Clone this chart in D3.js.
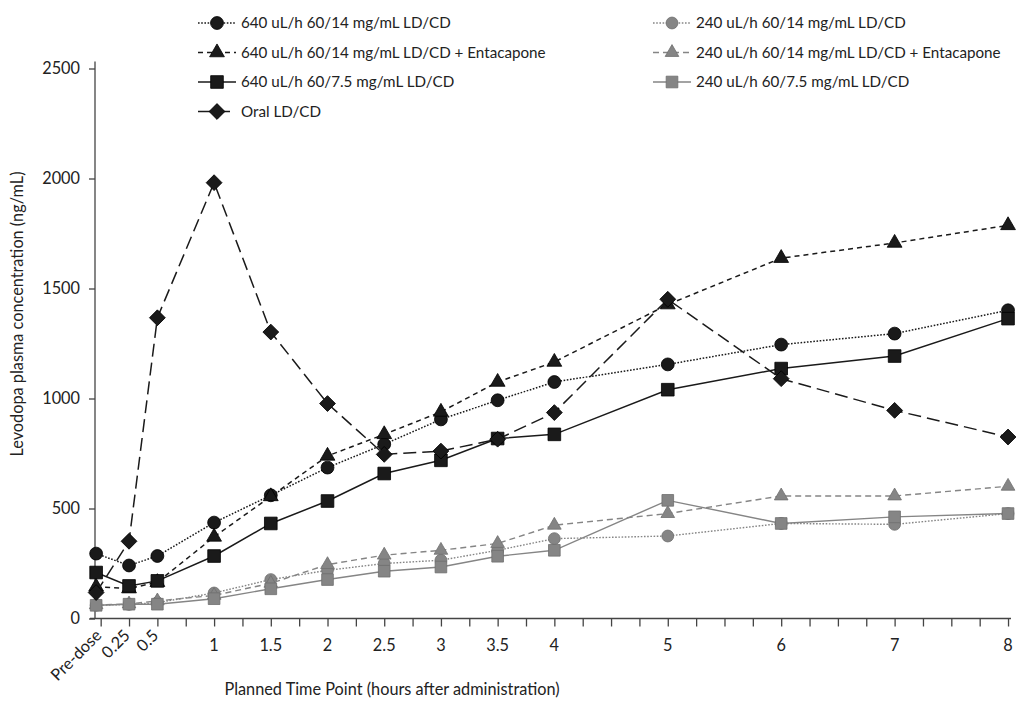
<!DOCTYPE html>
<html>
<head>
<meta charset="utf-8">
<script src="https://cdn.jsdelivr.net/npm/d3@7"></script>
<style>
  body { margin: 0; background: #fff; }
  svg { font-family: Lato, "Open Sans", sans-serif; }
</style>
</head>
<body>
<svg id="chart" width="1021" height="702"></svg>
<script>
// planned time points (hours); pre-dose sample sits just left of zero
const timePoints = [-0.04, 0.25, 0.5, 1, 1.5, 2, 2.5, 3, 3.5, 4, 5, 6, 7, 8];
const labelTimes = [0, 0.25, 0.5, 1, 1.5, 2, 2.5, 3, 3.5, 4, 5, 6, 7, 8];
const timeLabels = ["Pre-dose", "0.25", "0.5", "1", "1.5", "2", "2.5", "3", "3.5", "4", "5", "6", "7", "8"];
const yTicks = [0, 500, 1000, 1500, 2000, 2500];

// levodopa plasma concentration (ng/mL)
const hi14    = [295, 241, 284, 436, 560, 686, 792, 905, 992, 1075, 1155, 1245, 1295, 1401];
const lo14    = [60, 64, 72, 116, 177, 219, 250, 265, 310, 363, 375, 432, 428, 477];
const hi14Ent = [144, 136, 165, 371, 555, 739, 837, 939, 1075, 1166, 1427, 1638, 1707, 1787];
const lo14Ent = [62, 66, 80, 105, 160, 245, 288, 310, 341, 424, 477, 557, 557, 601];
const hi75    = [209, 148, 171, 284, 432, 534, 659, 719, 818, 837, 1040, 1136, 1193, 1363];
const lo75    = [60, 65, 65, 90, 135, 177, 215, 234, 283, 310, 537, 432, 462, 477];
const oral    = [118, 351, 1367, 1981, 1302, 977, 746, 761, 815, 936, 1451, 1090, 946, 825];

const seriesNames = [
    "640 uL/h 60/14 mg/mL LD/CD",
    "240 uL/h 60/14 mg/mL LD/CD",
    "640 uL/h 60/14 mg/mL LD/CD + Entacapone",
    "240 uL/h 60/14 mg/mL LD/CD + Entacapone",
    "640 uL/h 60/7.5 mg/mL LD/CD",
    "240 uL/h 60/7.5 mg/mL LD/CD",
    "Oral LD/CD"
];

const BLACK = "#1a1a1a";
const GREY = "#858585";
const FONT_SIZE = 16.3;
const LEGEND_FONT = 15.2;

const series = [
    {name: seriesNames[0], values: hi14,    color: BLACK, dash: "1.6,1.6", shape: "circle",   col: 0, row: 0},
    {name: seriesNames[1], values: lo14,    color: GREY,  dash: "1.6,1.6", shape: "circle",   col: 1, row: 0},
    {name: seriesNames[2], values: hi14Ent, color: BLACK, dash: "5,4",     shape: "triangle", col: 0, row: 1},
    {name: seriesNames[3], values: lo14Ent, color: GREY,  dash: "6,4",     shape: "triangle", col: 1, row: 1},
    {name: seriesNames[4], values: hi75,    color: BLACK, dash: null,      shape: "square",   col: 0, row: 2},
    {name: seriesNames[5], values: lo75,    color: GREY,  dash: null,      shape: "square",   col: 1, row: 2},
    {name: seriesNames[6], values: oral,    color: BLACK, dash: "13,6",    shape: "diamond",  col: 0, row: 3}
];

function markerPath(shape, grey) {
    const k = grey ? 0.85 : 1;
    if (shape === "circle") return d3.symbol(d3.symbolCircle, 130 * k)();
    if (shape === "triangle") return d3.symbol(d3.symbolTriangle, 95 * k)();
    if (shape === "square") return d3.symbol(d3.symbolSquare, 160 * k)();
    return d3.symbol(d3.symbolSquare, 125 * k)();
}

function drawChart() {
    const svg = d3.select("#chart");
    svg.selectAll("*").remove();

    const x = d3.scaleLinear().domain([-0.05, 8.02]).range([95, 1010.3]);
    const y = d3.scaleLinear().domain([0, 2500]).range([618.5, 68.5]);

    // y axis
    const yAxis = svg.append("g")
        .attr("transform", "translate(95,0)")
        .call(d3.axisLeft(y).tickValues(yTicks).tickFormat(d3.format("d")).tickSize(6).tickPadding(9));
    yAxis.select(".domain").attr("d", `M0,${y(0)}V61.5`);
    yAxis.selectAll("line, path").attr("stroke", "#444").attr("stroke-width", 1.3);
    yAxis.selectAll("text").attr("font-size", FONT_SIZE).attr("fill", "#222")
        .attr("font-family", "Lato, 'Open Sans', sans-serif");

    // x axis with quarter-hour ticks
    const minorTicks = d3.range(0, 8.001, 0.25);
    const xAxis = svg.append("g")
        .attr("transform", `translate(0,${y(0)})`)
        .call(d3.axisBottom(x).tickValues(minorTicks).tickSize(8).tickFormat(""));
    xAxis.select(".domain").attr("d", "M90,0H1011");
    xAxis.selectAll("line, path").attr("stroke", "#444").attr("stroke-width", 1.3);

    const labels = svg.append("g")
        .attr("font-size", FONT_SIZE)
        .attr("fill", "#222");
    labelTimes.forEach((t, i) => {
        if (i < 3) {
            labels.append("text")
                .attr("text-anchor", "end")
                .attr("transform", `translate(${x(t) + 2},${y(0) + 18}) rotate(-45)`)
                .text(timeLabels[i]);
        } else {
            labels.append("text")
                .attr("text-anchor", "middle")
                .attr("x", x(t))
                .attr("y", y(0) + 32)
                .text(timeLabels[i]);
        }
    });

    // axis titles
    svg.append("text")
        .attr("transform", "translate(23,314) rotate(-90)")
        .attr("text-anchor", "middle")
        .attr("font-size", FONT_SIZE)
        .attr("fill", "#222")
        .text("Levodopa plasma concentration (ng/mL)");

    svg.append("text")
        .attr("x", 392)
        .attr("y", 695)
        .attr("text-anchor", "middle")
        .attr("font-size", FONT_SIZE)
        .attr("fill", "#222")
        .text("Planned Time Point (hours after administration)");

    // lines and markers
    const line = d3.line()
        .x((d, i) => x(timePoints[i]))
        .y(d => y(d));

    series.forEach(s => {
        const grey = s.color === GREY;
        svg.append("path")
            .datum(s.values)
            .attr("fill", "none")
            .attr("stroke", s.color)
            .attr("stroke-width", grey ? 1.4 : 1.5)
            .attr("stroke-dasharray", s.dash)
            .attr("d", line);

        svg.append("g")
            .selectAll("path")
            .data(s.values)
            .join("path")
            .attr("transform", (d, i) => `translate(${x(timePoints[i])},${y(d)})` + (s.shape === "diamond" ? " rotate(45)" : ""))
            .attr("d", markerPath(s.shape, grey))
            .attr("fill", s.color)
            .attr("stroke", grey ? "#6e6e6e" : "#000")
            .attr("stroke-width", 0.8);
    });

    // legend
    const colX = [198, 653];
    const rowY = [23, 52.5, 82, 111.5];
    const legend = svg.append("g");
    series.forEach(s => {
        const grey = s.color === GREY;
        const lx = colX[s.col];
        const ly = rowY[s.row];
        const g = legend.append("g").attr("transform", `translate(${lx},${ly})`);
        g.append("line")
            .attr("x1", 0).attr("x2", 38)
            .attr("stroke", s.color)
            .attr("stroke-width", 1.5)
            .attr("stroke-dasharray", s.dash);
        g.append("path")
            .attr("transform", "translate(19,0)" + (s.shape === "diamond" ? " rotate(45)" : ""))
            .attr("d", markerPath(s.shape, grey))
            .attr("fill", s.color)
            .attr("stroke", grey ? "#6e6e6e" : "#000")
            .attr("stroke-width", 0.8);
        g.append("text")
            .attr("x", 43)
            .attr("dy", "0.35em")
            .attr("font-size", LEGEND_FONT)
            .attr("fill", "#222")
            .text(s.name);
    });
}

drawChart();
</script>
</body>
</html>
